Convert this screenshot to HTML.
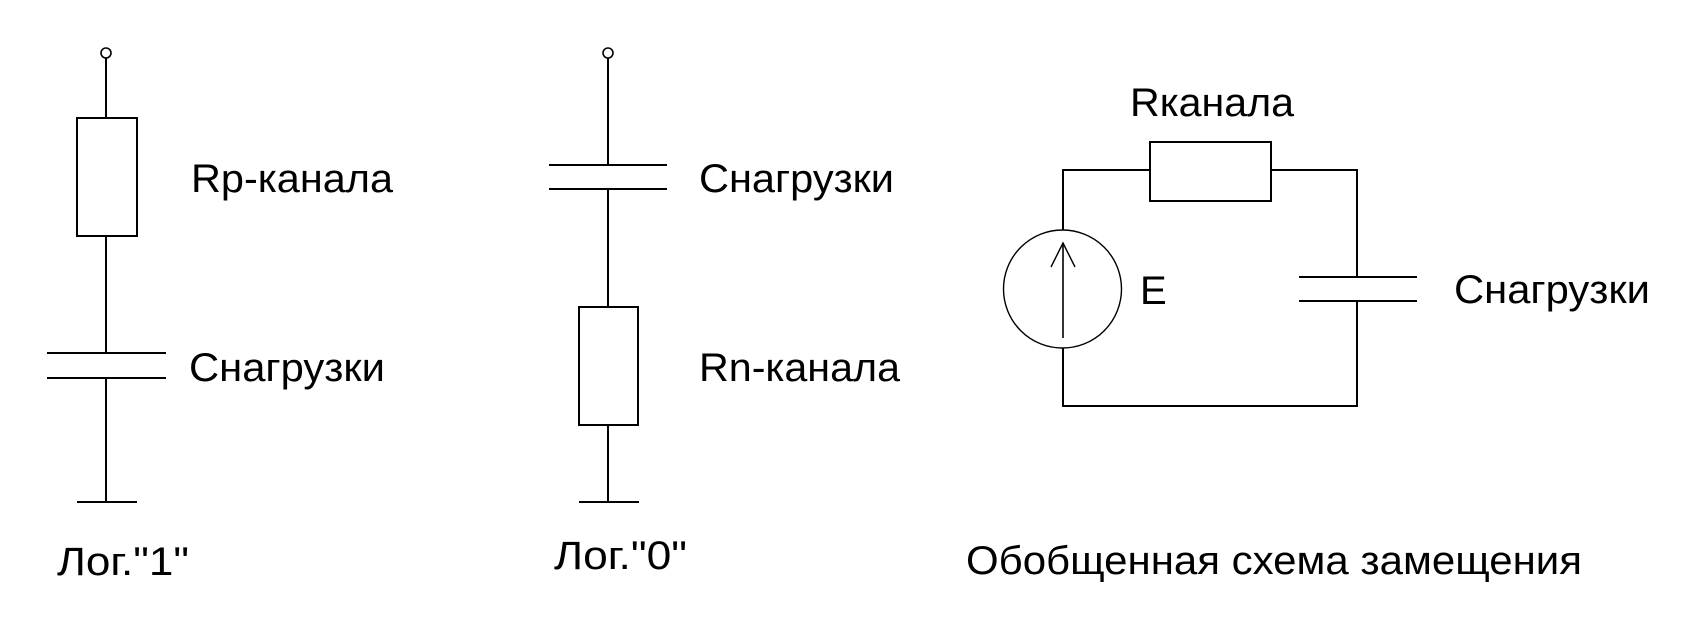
<!DOCTYPE html>
<html>
<head>
<meta charset="utf-8">
<style>
  html, body { margin: 0; padding: 0; background: #fff; }
  svg { display: block; }
  text { font-family: "Liberation Sans", Arial, sans-serif; font-size: 40px; fill: #000; }
</style>
</head>
<body>
<svg width="1697" height="632" viewBox="0 0 1697 632" xmlns="http://www.w3.org/2000/svg">
  <rect x="0" y="0" width="1697" height="632" fill="#fff"/>

  <!-- ===== Left circuit: Лог."1" ===== -->
  <g stroke="#000" stroke-width="2" fill="none">
    <circle cx="106" cy="53" r="5" stroke-width="1.6"/>
    <line x1="106" y1="58" x2="106" y2="118"/>
    <rect x="77" y="118" width="60" height="118"/>
    <line x1="106" y1="236" x2="106" y2="353"/>
    <line x1="47" y1="353" x2="166" y2="353"/>
    <line x1="47" y1="378" x2="166" y2="378"/>
    <line x1="106" y1="378" x2="106" y2="502"/>
    <line x1="77" y1="502" x2="137" y2="502"/>
  </g>
  <text x="191" y="192" textLength="202" lengthAdjust="spacingAndGlyphs">Rp-канала</text>
  <text x="189" y="381" textLength="196" lengthAdjust="spacingAndGlyphs">Снагрузки</text>
  <text x="57" y="575" textLength="132" lengthAdjust="spacingAndGlyphs">Лог."1"</text>

  <!-- ===== Middle circuit: Лог."0" ===== -->
  <g stroke="#000" stroke-width="2" fill="none">
    <circle cx="608" cy="53" r="5" stroke-width="1.6"/>
    <line x1="608" y1="58" x2="608" y2="165"/>
    <line x1="549" y1="165" x2="667" y2="165"/>
    <line x1="549" y1="189" x2="667" y2="189"/>
    <line x1="608" y1="189" x2="608" y2="307"/>
    <rect x="579" y="307" width="59" height="118"/>
    <line x1="608" y1="425" x2="608" y2="502"/>
    <line x1="579" y1="502" x2="639" y2="502"/>
  </g>
  <text x="699" y="192" textLength="195" lengthAdjust="spacingAndGlyphs">Снагрузки</text>
  <text x="699" y="381" textLength="201" lengthAdjust="spacingAndGlyphs">Rn-канала</text>
  <text x="554" y="569" textLength="133" lengthAdjust="spacingAndGlyphs">Лог."0"</text>

  <!-- ===== Right circuit: equivalent scheme ===== -->
  <g stroke="#000" stroke-width="2" fill="none">
    <polyline points="1063,230 1063,170 1150,170"/>
    <rect x="1150" y="142" width="121" height="59"/>
    <polyline points="1271,170 1357,170 1357,277"/>
    <line x1="1299" y1="277" x2="1417" y2="277"/>
    <line x1="1299" y1="301" x2="1417" y2="301"/>
    <polyline points="1357,301 1357,406 1063,406 1063,348"/>
    <circle cx="1062.5" cy="289" r="59" stroke-width="1.4"/>
    <line x1="1063" y1="243" x2="1063" y2="338" stroke-width="1.6"/>
    <polyline points="1051,267 1063,243 1075,267" stroke-width="1.4"/>
  </g>
  <text x="1130" y="116" textLength="164" lengthAdjust="spacingAndGlyphs">Rканала</text>
  <text x="1140" y="304">E</text>
  <text x="1454" y="303" textLength="196" lengthAdjust="spacingAndGlyphs">Снагрузки</text>
  <text x="966" y="574" textLength="616" lengthAdjust="spacingAndGlyphs">Обобщенная схема замещения</text>
</svg>
</body>
</html>
